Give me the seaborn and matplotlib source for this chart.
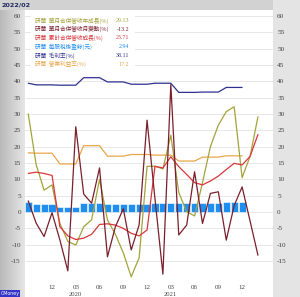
import numpy as np
import pandas as pd
import matplotlib
matplotlib.use("Agg")
import matplotlib.pyplot as plt
import seaborn as sns
from matplotlib.patches import Rectangle
from matplotlib.transforms import blended_transform_factory

# ---------------- data ----------------
months = ["2019/09", "2019/10", "2019/11", "2019/12",
          "2020/01", "2020/02", "2020/03", "2020/04", "2020/05", "2020/06",
          "2020/07", "2020/08", "2020/09", "2020/10", "2020/11", "2020/12",
          "2021/01", "2021/02", "2021/03", "2021/04", "2021/05", "2021/06",
          "2021/07", "2021/08", "2021/09", "2021/10", "2021/11", "2021/12",
          "2022/01", "2022/02"]

# 單月合併營收年成長(%)
rev_yoy = [30.0, 14.5, 6.7, 8.3, -3.5, -9.0, -10.1, -4.5, -2.4, 10.0,
           -2.4, -6.8, -12.5, -19.8, -14.0, 14.0, 14.0, 13.2, 23.5, 6.0,
           0.1, -1.2, 9.0, 20.0, 26.6, 30.7, 32.2, 10.5, 17.0, 29.13]
# 單月合併營收月變動(%)
rev_mom = [3.4, -3.4, -7.5, -0.2, -8.6, -18.0, 26.1, 5.5, 2.7, 13.5,
           -13.7, -4.5, 1.0, -11.6, -3.9, 28.1, 4.0, -19.0, 39.0, -7.0,
           -4.0, 12.3, -3.5, 5.7, 6.2, -8.6, 2.0, 7.7, -2.7, -13.2]
# 累計合併營收成長(%)
rev_cum = [11.8, 12.2, 11.8, 11.2, -4.5, -7.3, -8.4, -8.0, -6.8, -3.8,
           -3.6, -4.0, -5.0, -6.5, -7.3, -5.5, 14.0, 13.5, 16.9, 13.9,
           11.5, 9.0, 8.3, 9.5, 11.0, 13.0, 14.9, 14.4, 17.0, 23.71]
# 每股稅後盈餘(元)
eps = [3.0, 2.4, 2.4, 2.4, 1.6, 1.6, 1.6, 2.9, 2.9, 2.9,
       2.6, 2.6, 2.6, 2.6, 2.6, 2.6, 2.7, 2.7, 2.7, 2.8,
       2.8, 2.8, 2.9, 2.9, 2.9, 2.94, 2.94, 2.94]
# 毛利率(%)
gross_margin = [39.4, 38.9, 38.9, 38.9, 38.8, 38.8, 38.8, 41.1, 41.1, 41.1,
                39.8, 39.8, 39.8, 39.1, 39.1, 39.1, 39.4, 39.4, 39.4, 36.6,
                36.6, 36.6, 36.7, 36.7, 36.7, 38.11, 38.11, 38.11]
# 營業利益率(%)
op_margin = [18.1, 18.0, 18.0, 18.0, 14.7, 14.7, 14.7, 20.3, 20.3, 20.3,
             17.1, 17.1, 17.1, 17.6, 17.6, 17.6, 17.4, 17.4, 17.4, 15.6,
             15.6, 15.6, 16.8, 16.8, 16.8, 17.2, 17.2, 17.2]

legend_labels = ["研華  單月合併營收年成長(%)", "研華  單月合併營收月變動(%)",
                 "研華  累計合併營收成長(%)", "研華  每股稅後盈餘(元)",
                 "研華  毛利率(%)", "研華  營業利益率(%)"]
legend_values = ["29.13", "-13.2", "23.71", "2.94", "38.11", "17.2"]

xtick_months = ["2019/12", "2020/03", "2020/06", "2020/09", "2020/12",
                "2021/03", "2021/06", "2021/09", "2021/12"]
xtick_labels = ["12", "03", "06", "09", "12", "03", "06", "09", "12"]
year_months = ["2020/03", "2021/03"]
year_labels = ["2020", "2021"]
ytick_values = [-15, -10, -5, 0, 5, 10, 15, 20, 25, 30, 35, 40, 45, 50, 55, 60]

# ---------------- styling ----------------
C_YOY = "#a3a33c"
C_MOM = "#7a1f2b"
C_CUM = "#d8363c"
C_EPS = "#1f8ef1"
C_GM = "#30308f"
C_OPM = "#e8a64a"
colors = [C_YOY, C_MOM, C_CUM, C_EPS, C_GM, C_OPM]
SERIF = ["Liberation Serif", "DejaVu Serif"]

sns.set_theme(style="white")
plt.rcParams["font.family"] = ["Noto Sans CJK TC", "DejaVu Sans"]

W, H = 300, 297
fig = plt.figure(figsize=(W / 100, H / 100), dpi=100, facecolor="white")

bg = fig.add_axes([0, 0, 1, 1], zorder=-10)
bg.set_xlim(0, W); bg.set_ylim(H, 0); bg.axis("off")
grad = np.linspace(0, 1, 50)[None, :]
bg.imshow(grad, extent=(0, 25, H, 0), cmap=matplotlib.colors.LinearSegmentedColormap.from_list(
    "g", ["#b9b9b9", "#e6e6e6"]), aspect="auto")
bg.add_patch(Rectangle((0, 0), W, 10, color="#d2d2d2", lw=0))
bg.add_patch(Rectangle((273, 0), W - 273, H, color="#e4e4e4", lw=0))
bg.set_xlim(0, W); bg.set_ylim(H, 0)

left, right, top, bottom = 25, 273, 10, 282
ax = fig.add_axes([left / W, 1 - bottom / H, (right - left) / W, (bottom - top) / H])
ax.set_facecolor("white")

idx = list(range(len(months)))
df = pd.DataFrame({"i": idx, "yoy": rev_yoy, "mom": rev_mom, "cum": rev_cum})
dq = pd.DataFrame({"i": idx[:len(eps)], "eps": eps, "gm": gross_margin, "opm": op_margin})

sns.barplot(data=dq, x="i", y="eps", native_scale=True, color=C_EPS, saturation=1,
            width=0.9, edgecolor="white", linewidth=0.4, ax=ax, zorder=2)
lw = 0.9
sns.lineplot(data=dq, x="i", y="gm", color=C_GM, lw=lw, ax=ax, zorder=3)
sns.lineplot(data=dq, x="i", y="opm", color=C_OPM, lw=lw, ax=ax, zorder=3)
sns.lineplot(data=df, x="i", y="yoy", color=C_YOY, lw=lw, ax=ax, zorder=4)
sns.lineplot(data=df, x="i", y="cum", color=C_CUM, lw=lw, ax=ax, zorder=4)
sns.lineplot(data=df, x="i", y="mom", color=C_MOM, lw=lw, ax=ax, zorder=5)

ax.set_xlim(-0.41, 30.9)
ax.set_ylim(-21.4, 61.8)
ax.set_xlabel(""); ax.set_ylabel("")
ax.set_yticks(ytick_values)
ax.set_yticklabels([str(v) for v in ytick_values])
ax.set_xticks([months.index(m) for m in xtick_months])
ax.set_xticklabels(xtick_labels)
ax.yaxis.grid(True, color="#e3e3e3", lw=0.6, zorder=0)
ax.xaxis.grid(False)
ax.set_axisbelow(True)
for s in ax.spines.values():
    s.set_visible(False)
ax.tick_params(axis="y", left=False, right=False, length=0, labelleft=True, labelright=True,
               pad=3, colors="#444444", labelsize=5.2)
ax.tick_params(axis="x", bottom=False, length=0, pad=2.0, colors="#444444", labelsize=5.0)
for lab in ax.get_yticklabels() + ax.get_xticklabels():
    lab.set_family(SERIF)

trans = blended_transform_factory(ax.transData, fig.transFigure)
for m, yl in zip(year_months, year_labels):
    ax.text(months.index(m), 1 - 294 / H, yl, transform=trans, ha="center", va="center",
            fontsize=4.8, color="#444444", family=SERIF, clip_on=False)

# legend block
ov = fig.add_axes([0, 0, 1, 1], zorder=5)
ov.set_xlim(0, W); ov.set_ylim(H, 0); ov.axis("off")
ov.patch.set_alpha(0)
ov.add_patch(Rectangle((31, 14), 104, 55, color="white", lw=0))
lg_x0, lg_y0, lg_row = 35, 20.5, 8.7
for k, (lab, val) in enumerate(zip(legend_labels, legend_values)):
    y = lg_y0 + k * lg_row
    ov.text(lg_x0, y, lab, color=colors[k], fontsize=4.1, va="center", ha="left")
    ov.text(129, y, val, color=colors[k], fontsize=4.3, va="center", ha="right",
            family=SERIF)

ov.text(2, 5, "2022/02", color="#1f2a60", fontsize=4.6, va="center", ha="left",
        fontweight="bold", family=["DejaVu Sans"])
ov.add_patch(Rectangle((0, 290), 20, 7, color="#3434c8", lw=0))
ov.text(1, 293.5, "CMoney", color="white", fontsize=3.4, va="center", ha="left",
        family=["DejaVu Sans"])

fig.savefig("out.png", dpi=100, facecolor=fig.get_facecolor())
